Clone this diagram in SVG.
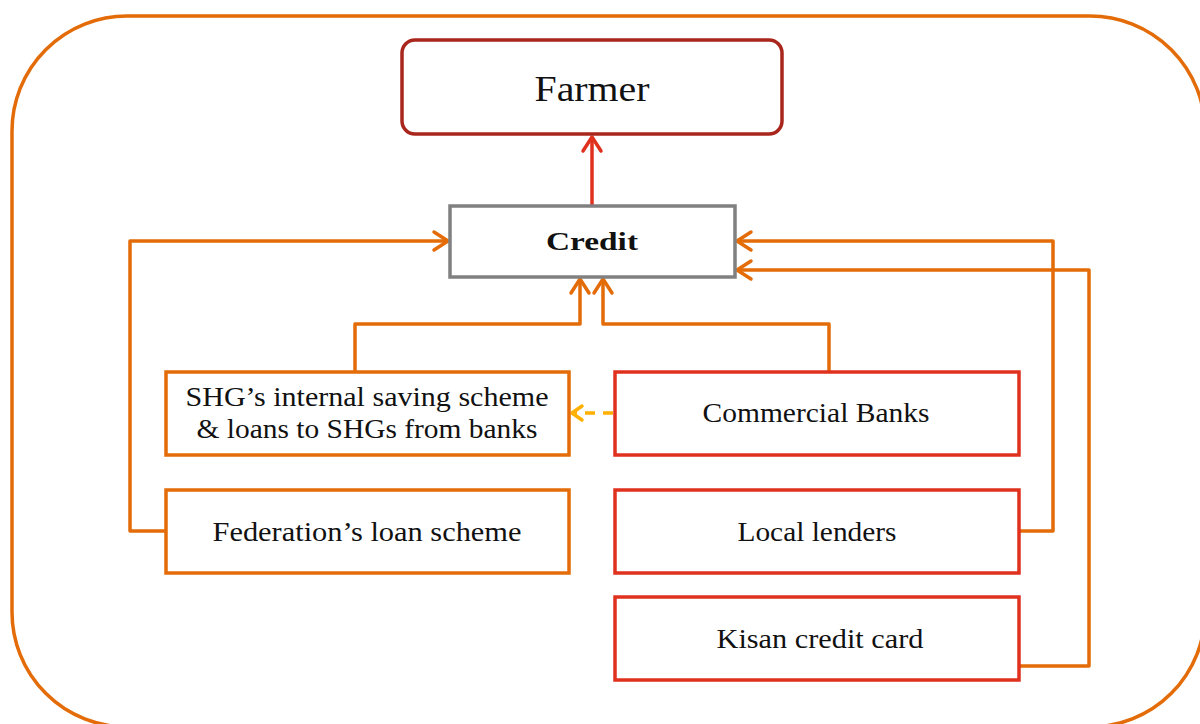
<svg xmlns="http://www.w3.org/2000/svg" width="1200" height="724" viewBox="0 0 1200 724">
<defs>
<style>
text{font-family:"Liberation Serif","DejaVu Serif",serif;fill:#111;text-anchor:middle}
.box{fill:#fff;stroke-width:3.5}
.org{stroke:#e36c09}
.red{stroke:#e0311f}
.conn{fill:none;stroke-width:3.5;stroke-linejoin:round}
.lbl{font-size:27px}
</style>
<marker id="ao" markerUnits="userSpaceOnUse" markerWidth="24" markerHeight="24" viewBox="-20 -12 24 24" refX="0" refY="0" orient="auto">
<path d="M-14,-9 L0,0 L-14,9" fill="none" stroke="#e36c09" stroke-width="3.5" stroke-linecap="round" stroke-linejoin="round"/>
</marker>
<marker id="ar" markerUnits="userSpaceOnUse" markerWidth="24" markerHeight="24" viewBox="-20 -12 24 24" refX="0" refY="0" orient="auto">
<path d="M-14,-9 L0,0 L-14,9" fill="none" stroke="#e0311f" stroke-width="3.5" stroke-linecap="round" stroke-linejoin="round"/>
</marker>
<marker id="ay" markerUnits="userSpaceOnUse" markerWidth="24" markerHeight="24" viewBox="-20 -12 24 24" refX="0" refY="0" orient="auto">
<path d="M-10,-7 L0,0 L-10,7" fill="none" stroke="#ffb000" stroke-width="3.5" stroke-linecap="round" stroke-linejoin="round"/>
</marker>
</defs>
<rect x="12" y="16" width="1193" height="711" rx="115" fill="none" stroke="#e36c09" stroke-width="3.5"/>
<g id="connectors">
<path class="conn" d="M592,206 L592,137" stroke="#e0311f" marker-end="url(#ar)"/>
<path class="conn" d="M166,531 L130,531 L130,241 L448,241" stroke="#e36c09" marker-end="url(#ao)"/>
<path class="conn" d="M1020,531 L1053,531 L1053,241 L737,241" stroke="#e36c09" marker-end="url(#ao)"/>
<path class="conn" d="M1020,666 L1089,666 L1089,270 L737,270" stroke="#e36c09" marker-end="url(#ao)"/>
<path class="conn" d="M355,372 L355,324 L580,324 L580,279" stroke="#e36c09" marker-end="url(#ao)"/>
<path class="conn" d="M829,372 L829,324 L603,324 L603,279" stroke="#e36c09" marker-end="url(#ao)"/>
<path class="conn" d="M613,413 L572,413" stroke="#ffb000" stroke-dasharray="10,8" marker-end="url(#ay)"/>
</g>
<g id="farmer">
<rect class="box" x="402" y="40" width="380" height="94" rx="13" stroke="#a8261c"/>
<text x="592" y="101" font-size="36" textLength="115" lengthAdjust="spacingAndGlyphs">Farmer</text>
</g>
<g id="credit">
<rect class="box" x="450" y="206" width="285" height="71" stroke="#808080"/>
<text x="592" y="250" font-size="26" font-weight="bold" textLength="92" lengthAdjust="spacingAndGlyphs">Credit</text>
</g>
<g id="shg">
<rect class="box org" x="166" y="372" width="403" height="83"/>
<text class="lbl" x="367" y="406" textLength="363" lengthAdjust="spacingAndGlyphs">SHG’s internal saving scheme</text>
<text class="lbl" x="367" y="438" textLength="341" lengthAdjust="spacingAndGlyphs">&amp; loans to SHGs from banks</text>
</g>
<g id="commercial-banks">
<rect class="box red" x="615" y="372" width="404" height="83"/>
<text class="lbl" x="816" y="422" textLength="227" lengthAdjust="spacingAndGlyphs">Commercial Banks</text>
</g>
<g id="federation">
<rect class="box org" x="166" y="490" width="403" height="83"/>
<text class="lbl" x="367" y="541" textLength="309" lengthAdjust="spacingAndGlyphs">Federation’s loan scheme</text>
</g>
<g id="local-lenders">
<rect class="box red" x="615" y="490" width="404" height="83"/>
<text class="lbl" x="817" y="541" textLength="159" lengthAdjust="spacingAndGlyphs">Local lenders</text>
</g>
<g id="kisan">
<rect class="box red" x="615" y="597" width="404" height="83"/>
<text class="lbl" x="820" y="648" textLength="207" lengthAdjust="spacingAndGlyphs">Kisan  credit card</text>
</g>
</svg>
